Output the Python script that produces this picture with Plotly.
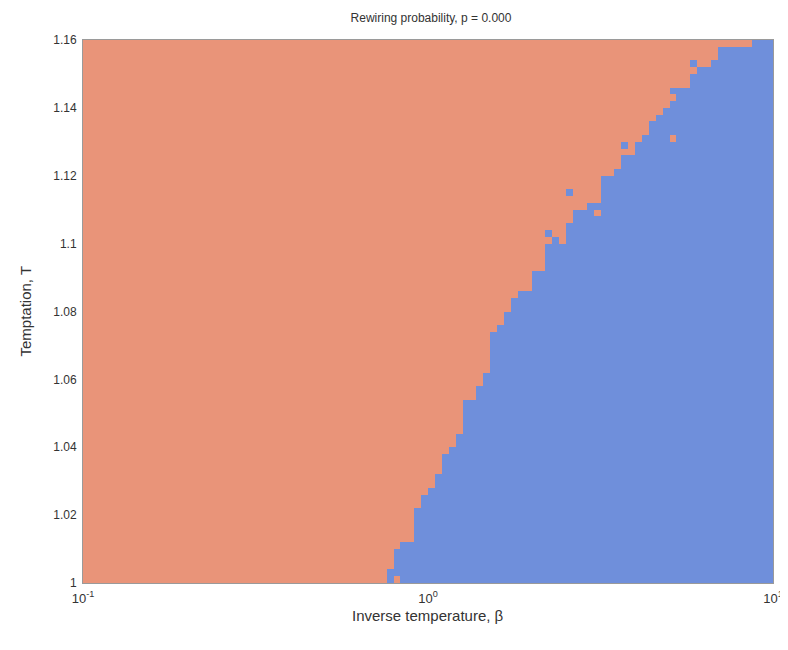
import numpy as np
import plotly.graph_objects as go

# Grid of the simulation
n_beta = 100
n_T = 80
beta_min, beta_max = 0.1, 10.0
T_min, T_max = 1.0, 1.16

# Critical inverse temperature (blue region starts) for each temptation row, bottom -> top
beta_c = [0.759, 0.759, 0.794, 0.794, 0.794, 0.832, 0.912, 0.912, 0.912, 0.912,
          0.912, 0.955, 0.955, 1.000, 1.047, 1.047, 1.096, 1.096, 1.096, 1.148,
          1.202, 1.202, 1.259, 1.259, 1.259, 1.259, 1.259, 1.380, 1.380, 1.445,
          1.445, 1.514, 1.514, 1.514, 1.514, 1.514, 1.514, 1.585, 1.660, 1.660,
          1.738, 1.738, 1.820, 1.995, 1.995, 1.995, 2.188, 2.188, 2.188, 2.188,
          2.291, 2.512, 2.512, 2.630, 2.630, 2.884, 3.162, 3.162, 3.162, 3.162,
          3.467, 3.631, 3.631, 3.981, 3.981, 4.169, 4.365, 4.365, 4.571, 4.786,
          5.012, 5.248, 5.248, 5.754, 5.754, 6.026, 6.607, 6.607, 6.918, 8.710]

# Isolated cells that differ from their surroundings (T, beta, state)
odd_T = [1.001, 1.087, 1.101, 1.103, 1.109, 1.115, 1.129, 1.131, 1.145, 1.153, 1.155]
odd_beta = [0.81, 1.97, 2.48, 2.19, 3.09, 2.57, 3.70, 5.07, 5.07, 5.90, 6.90]
odd_state = [0, 0, 0, 1, 0, 1, 1, 0, 1, 1, 0]

x_tickvals = [0.1, 1, 10]
x_ticktext = ["10<sup>-1</sup>", "10<sup>0</sup>", "10<sup>1</sup>"]
y_tickvals = [1, 1.02, 1.04, 1.06, 1.08, 1.1, 1.12, 1.14, 1.16]
y_ticktext = ["1", "1.02", "1.04", "1.06", "1.08", "1.1", "1.12", "1.14", "1.16"]

x_edges = np.logspace(np.log10(beta_min), np.log10(beta_max), n_beta + 1)
y_edges = np.linspace(T_min, T_max, n_T + 1)
x_centers = np.sqrt(x_edges[:-1] * x_edges[1:])
y_centers = 0.5 * (y_edges[:-1] + y_edges[1:])

z = np.zeros((n_T, n_beta))
for r in range(n_T):
    z[r, :] = (x_centers > beta_c[r]).astype(float)
for t, b, s in zip(odd_T, odd_beta, odd_state):
    r = int(np.argmin(np.abs(y_centers - t)))
    c = int(np.argmin(np.abs(np.log10(x_centers) - np.log10(b))))
    z[r, c] = s

salmon = "#E99479"
blue = "#6F8FDB"

fig = go.Figure(go.Heatmap(
    x=x_edges, y=y_edges, z=z,
    zmin=0, zmax=1,
    colorscale=[[0, salmon], [0.5, salmon], [0.5, blue], [1, blue]],
    showscale=False, hoverinfo="skip",
))

font = "Liberation Sans, Arial, sans-serif"
fig.update_layout(
    width=780, height=634,
    margin=dict(l=75, r=15, t=32, b=59, autoexpand=False),
    paper_bgcolor="white", plot_bgcolor="white",
    font=dict(family=font, color="#333333", size=12),
    title=dict(text="Rewiring probability, p = 0.000", x=0.5423, xanchor="center",
               y=1 - 10 / 634, yanchor="middle", font=dict(size=12, color="#333333")),
    xaxis=dict(type="log", range=[-1, 1], tickvals=x_tickvals, ticktext=x_ticktext,
               showgrid=False, zeroline=False, automargin=False,
               showline=True, linecolor="#9a9a9a", linewidth=1, mirror=True,
               ticks="", ticklabelstandoff=3, tickfont=dict(size=13)),
    yaxis=dict(range=[T_min, T_max], tickvals=y_tickvals, ticktext=y_ticktext,
               showgrid=False, zeroline=False, automargin=False,
               showline=True, linecolor="#9a9a9a", linewidth=1, mirror=True,
               ticks="", ticklabelstandoff=3),
    annotations=[
        dict(text="Inverse temperature, β", xref="paper", yref="paper", x=0.5, y=0,
             yshift=-32, xanchor="center", yanchor="middle", showarrow=False,
             font=dict(size=15, color="#333333")),
        dict(text="Temptation, T", xref="paper", yref="paper", x=0, y=0.5,
             xshift=-58, xanchor="center", yanchor="middle", showarrow=False,
             textangle=-90, font=dict(size=15, color="#333333")),
    ],
)

fig.write_html("out.html")
